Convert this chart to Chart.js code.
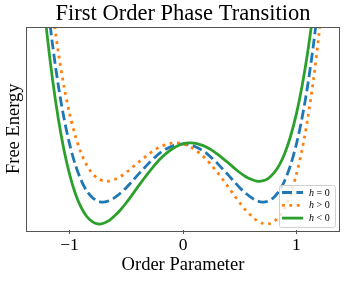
<!DOCTYPE html>
<html>
<head>
<meta charset="utf-8">
<script src="https://cdn.jsdelivr.net/npm/chart.js@4.4.0/dist/chart.umd.min.js"></script>
<style>
  html, body { margin: 0; padding: 0; background: #fff; }
  canvas { display: block; }
</style>
</head>
<body>
<canvas id="chart" width="346" height="281"></canvas>
<script>
// --- data ---
const orderParam = [-1.25, -1.2, -1.15, -1.1, -1.05, -1.0, -0.95, -0.9, -0.85, -0.8, -0.75, -0.7, -0.65, -0.6, -0.55, -0.5,
    -0.45, -0.4, -0.35, -0.3, -0.25, -0.2, -0.15, -0.1, -0.05, 0, 0.05, 0.1, 0.15, 0.2, 0.25, 0.3, 0.35, 0.4, 0.45, 0.5,
    0.55, 0.6, 0.65, 0.7, 0.75, 0.8, 0.85, 0.9, 0.95, 1.0, 1.05, 1.1, 1.15, 1.2, 1.25];

const energyZero = [0.879, 0.634, 0.427, 0.254, 0.113, 0, -0.088, -0.154, -0.201, -0.230, -0.246, -0.250, -0.244, -0.230,
    -0.211, -0.188, -0.162, -0.134, -0.108, -0.082, -0.059, -0.038, -0.022, -0.010, -0.003, 0, -0.003, -0.010, -0.022,
    -0.038, -0.059, -0.082, -0.108, -0.134, -0.162, -0.188, -0.211, -0.230, -0.244, -0.250, -0.246, -0.230, -0.201,
    -0.154, -0.088, 0, 0.113, 0.254, 0.427, 0.634, 0.879];

const energyPos = [1.042, 0.790, 0.576, 0.397, 0.250, 0.130, 0.036, -0.037, -0.090, -0.126, -0.149, -0.159, -0.160,
    -0.152, -0.140, -0.123, -0.103, -0.082, -0.062, -0.043, -0.026, -0.012, -0.003, 0.003, 0.004, 0, -0.009, -0.023,
    -0.042, -0.064, -0.091, -0.121, -0.153, -0.186, -0.220, -0.253, -0.283, -0.308, -0.329, -0.341, -0.344, -0.334,
    -0.311, -0.271, -0.212, -0.130, -0.024, 0.111, 0.277, 0.478, 0.716];

const energyNeg = [0.716, 0.478, 0.277, 0.111, -0.024, -0.130, -0.212, -0.271, -0.311, -0.334, -0.344, -0.341, -0.329,
    -0.308, -0.283, -0.253, -0.220, -0.186, -0.153, -0.121, -0.091, -0.064, -0.042, -0.023, -0.009, 0, 0.004, 0.003,
    -0.003, -0.012, -0.026, -0.043, -0.062, -0.082, -0.103, -0.123, -0.140, -0.152, -0.160, -0.159, -0.149, -0.126,
    -0.090, -0.037, 0.036, 0.130, 0.250, 0.397, 0.576, 0.790, 1.042];

const seriesLabels = ['h = 0', 'h > 0', 'h < 0'];
const xTickValues = [-1, 0, 1];
const xTickLabels = ['\u22121', '0', '1'];

const SERIF = '"Liberation Serif", "DejaVu Serif", serif';

function toPoints(ys) {
    return orderParam.map((x, i) => ({ x: x, y: ys[i] }));
}

// frame around the plot + legend box in the lower right corner
const framePlugin = {
    id: 'frameAndLegend',
    afterDatasetsDraw(chart) {
        const { ctx, chartArea: a } = chart;
        ctx.save();
        ctx.strokeStyle = '#555';
        ctx.lineWidth = 1;
        ctx.strokeRect(Math.round(a.left) - 0.5, Math.round(a.top) - 0.5,
            Math.round(a.right - a.left) + 1, Math.round(a.bottom - a.top) + 1);

        // legend
        const w = 56, h = 42;
        const bx = a.right - w - 4, by = a.bottom - h - 3;
        ctx.fillStyle = 'rgba(255,255,255,0.8)';
        ctx.strokeStyle = '#d0d0d0';
        ctx.beginPath();
        ctx.roundRect(bx + 0.5, by + 0.5, w, h, 2);
        ctx.fill();
        ctx.stroke();

        chart.data.datasets.forEach((ds, i) => {
            const y = by + 7.5 + i * 12.8;
            ctx.strokeStyle = ds.borderColor;
            ctx.lineWidth = ds.borderWidth;
            ctx.setLineDash(ds.borderDash || []);
            ctx.lineCap = 'butt';
            ctx.beginPath();
            ctx.moveTo(bx + 3, y);
            ctx.lineTo(bx + 24, y);
            ctx.stroke();
            ctx.setLineDash([]);

            ctx.fillStyle = '#000';
            ctx.textBaseline = 'middle';
            ctx.font = 'italic 10px ' + SERIF;
            const first = ds.label.charAt(0);
            ctx.fillText(first, bx + 30, y + 0.5);
            const fw = ctx.measureText(first).width;
            ctx.font = '10px ' + SERIF;
            ctx.fillText(ds.label.slice(1), bx + 30 + fw, y + 0.5);
        });
        ctx.restore();
    }
};

const ctx = document.getElementById('chart').getContext('2d');
new Chart(ctx, {
    type: 'line',
    data: {
        datasets: [
            {
                label: seriesLabels[0],
                data: toPoints(energyZero),
                borderColor: '#1f77b4',
                borderWidth: 2.8,
                borderDash: [10, 4.4],
                order: 2
            },
            {
                label: seriesLabels[1],
                data: toPoints(energyPos),
                borderColor: '#ff7f0e',
                borderWidth: 2.8,
                borderDash: [2.8, 4.6],
                order: 1
            },
            {
                label: seriesLabels[2],
                data: toPoints(energyNeg),
                borderColor: '#2ca02c',
                borderWidth: 2.8,
                order: 0
            }
        ]
    },
    options: {
        responsive: false,
        animation: false,
        events: [],
        clip: 0,
        elements: {
            point: { radius: 0 },
            line: { tension: 0.3, fill: false, borderCapStyle: 'butt' }
        },
        layout: { padding: { left: 0, right: 7, top: 0, bottom: 0 } },
        scales: {
            x: {
                type: 'linear',
                min: -1.375,
                max: 1.375,
                afterBuildTicks: (scale) => { scale.ticks = xTickValues.map(v => ({ value: v })); },
                afterFit: (scale) => { scale.height = 51; },
                ticks: {
                    color: '#000',
                    padding: 1,
                    maxRotation: 0,
                    font: { family: SERIF, size: 17.5 },
                    callback: (v) => xTickLabels[xTickValues.indexOf(v)]
                },
                grid: { display: true, drawOnChartArea: false, drawTicks: true, tickLength: 4, color: '#555' },
                border: { display: false },
                title: {
                    display: true,
                    text: 'Order Parameter',
                    color: '#000',
                    font: { family: SERIF, size: 18.5 },
                    padding: { top: 0, bottom: 5 }
                }
            },
            y: {
                min: -0.37,
                max: 0.5,
                afterFit: (scale) => { scale.width = 27; },
                ticks: { display: false },
                grid: { display: false },
                border: { display: false },
                title: {
                    display: true,
                    text: 'Free Energy',
                    color: '#000',
                    font: { family: SERIF, size: 18.5 },
                    padding: { top: 3, bottom: 0 }
                }
            }
        },
        plugins: {
            legend: { display: false },
            tooltip: { enabled: false },
            title: {
                display: true,
                fullSize: false,
                text: 'First Order Phase Transition',
                color: '#000',
                font: { family: SERIF, size: 22.5, weight: 'normal', lineHeight: 1 },
                padding: { top: 3, bottom: 2 }
            }
        }
    },
    plugins: [framePlugin]
});
</script>
</body>
</html>
